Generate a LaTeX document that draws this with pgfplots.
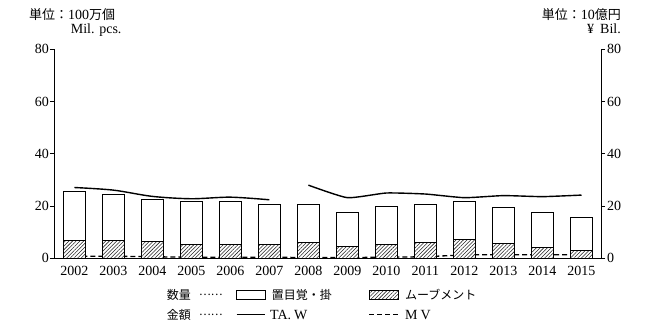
\documentclass[border=0pt]{standalone}
\usepackage{fontspec}
\setmainfont{Liberation Serif}
\newfontfamily\jp{Noto Sans CJK JP}
\usepackage{pgfplots}
\usepackage{pgfplotstable}
\pgfplotsset{compat=1.18}
\usetikzlibrary{patterns.meta}

% watch production: quantity (Mil. pcs.) and value (Bil. yen)
\pgfplotstableread{
idx total move mv
0  25.5 6.8 0.8
1  24.5 6.8 0.8
2  22.4 6.4 0.6
3  21.7 5.2 0.4
4  21.7 5.2 0.4
5  20.6 5.2 0.4
6  20.6 6.0 0.3
7  17.5 4.5 0.3
8  19.8 5.2 0.4
9  20.6 6.0 0.6
10 21.7 7.2 1.3
11 19.4 5.6 1.4
12 17.5 4.1 1.3
13 15.6 2.9 1.4
}\datatable

\tikzset{
  hatch/.style={pattern={Lines[angle=45,distance=2.6pt,line width=0.55pt]}, pattern color=black!85},
}

\pgfplotsset{
  base/.style={
    at={(0pt,0pt)}, anchor=south west,
    scale only axis, width=547pt, height=209pt,
    xmin=-0.52, xmax=13.5, ymin=0, ymax=80,
    ytick={0,20,40,60,80},
    tick align=outside, major tick length=4pt,
    axis line style={-, line width=0.9pt},
    tick style={line width=0.9pt, black},
    /pgf/number format/assume math mode=true,
    ticklabel style={font=\fontsize{14}{16}\selectfont},
  },
}

\begin{document}
\begin{tikzpicture}
\useasboundingbox (-54pt,-73.7pt) rectangle (596pt,258.3pt);

% value axis (right): TA.W and MV
\begin{axis}[base,
  axis x line=none, axis y line*=right,
  yticklabel style={inner sep=2pt}]
  \addplot[black, line width=1.3pt, dash pattern=on 5pt off 3pt] table[x=idx,y=mv]{\datatable};
  \addplot[black, line width=1.4pt, smooth, tension=0.5] coordinates {
    (0,27.1) (1,26.1) (2,23.7) (3,22.8) (4,23.4) (5,22.4)};
  \addplot[black, line width=1.4pt, smooth, tension=0.3] coordinates {
    (6,28.0) (7,23.2) (8,25.0) (9,24.6) (10,23.2) (11,24.0) (12,23.6) (13,24.2)};
\end{axis}

% quantity axis (left): bars
\begin{axis}[base,
  axis x line*=bottom, axis y line*=left,
  xtick={0,...,13},
  xticklabels={2002,2003,2004,2005,2006,2007,2008,2009,2010,2011,2012,2013,2014,2015},
  xtick style={draw=none},
  yticklabel style={inner sep=1pt}]
  \addplot[ybar, bar width=22pt, fill=white, draw=black, line width=0.8pt]
    table[x=idx,y=total]{\datatable};
  \addplot[ybar, bar width=22pt, draw=black, line width=0.8pt, hatch]
    table[x=idx,y=move]{\datatable};
\end{axis}

% unit captions
\node[anchor=base west, inner sep=0pt, font=\fontsize{14}{16}\selectfont]
  at (-25pt,238.8pt) {{\jp\fontsize{13}{16}\selectfont 単位：}100{\jp\fontsize{13}{16}\selectfont 万個}};
\node[anchor=base west, inner sep=0pt, font=\fontsize{14}{16}\selectfont]
  at (16.7pt,224.8pt) {Mil. pcs.};
\node[anchor=base east, inner sep=0pt, font=\fontsize{14}{16}\selectfont]
  at (567pt,238.8pt) {{\jp\fontsize{13}{16}\selectfont 単位：}10{\jp\fontsize{13}{16}\selectfont 億円}};
\node[anchor=base east, inner sep=0pt, font=\fontsize{14}{16}\selectfont]
  at (567pt,224.8pt) {¥\hspace{6pt}Bil.};

% legend
\begin{scope}[every node/.style={inner sep=0pt, anchor=west}]
  \node[font=\jp\fontsize{12}{14}\selectfont] at (112.7pt,-36.3pt) {数量};
  \node[font=\jp\fontsize{11}{14}\selectfont] at (145pt,-36.3pt) {……};
  \draw[line width=0.8pt, fill=white] (182.7pt,-41.4pt) rectangle (211pt,-31.7pt);
  \node[font=\jp\fontsize{12}{14}\selectfont] at (217.7pt,-36.3pt) {置目覚・掛};
  \draw[line width=0.8pt, hatch] (315.3pt,-41.4pt) rectangle (344.3pt,-31.7pt);
  \node[font=\jp\fontsize{12}{14}\selectfont] at (351pt,-36.3pt) {ムーブメント};

  \node[font=\jp\fontsize{12}{14}\selectfont] at (112.7pt,-56.3pt) {金額};
  \node[font=\jp\fontsize{11}{14}\selectfont] at (145pt,-56.3pt) {……};
  \draw[line width=1.4pt] (182.7pt,-56pt) -- (211pt,-56pt);
  \node[font=\fontsize{14}{16}\selectfont] at (216pt,-56.3pt) {TA.\hspace{3pt}W};
  \draw[line width=1.3pt, dash pattern=on 5pt off 3pt] (315.3pt,-56pt) -- (344.3pt,-56pt);
  \node[font=\fontsize{14}{16}\selectfont] at (351pt,-56.3pt) {M\hspace{3pt}V};
\end{scope}
\end{tikzpicture}
\end{document}
